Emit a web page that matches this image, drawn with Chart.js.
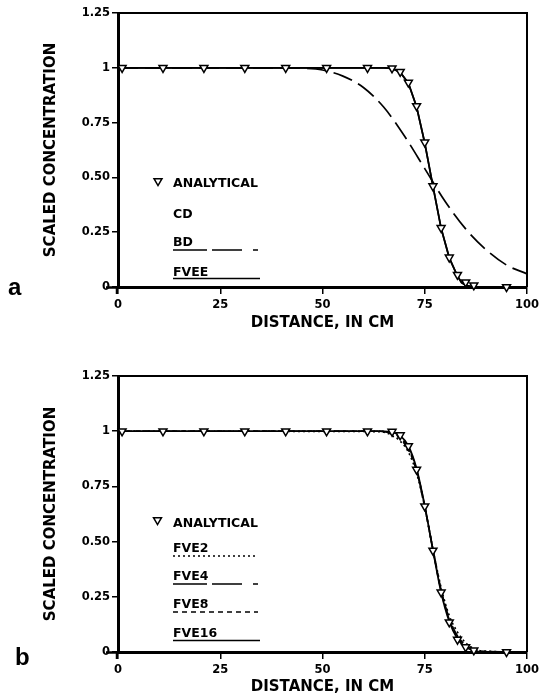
<!DOCTYPE html>
<html>
<head>
<meta charset="utf-8">
<script src="https://cdn.jsdelivr.net/npm/chart.js@4.4.1/dist/chart.umd.min.js"></script>
<style>
  html, body { margin: 0; padding: 0; background: #fff; }
  #wrap { position: relative; width: 540px; height: 698px; overflow: hidden; }
  canvas { position: absolute; left: 0; }
  #c1 { top: 0; }
  #c2 { top: 349px; }
</style>
</head>
<body>
<div id="wrap">
  <canvas id="c1" width="540" height="349"></canvas>
  <canvas id="c2" width="540" height="349"></canvas>
</div>
<script>
// ---------- DATA ----------
const xTicks = [0, 25, 50, 75, 100];
const yTicks = [0, 0.25, 0.5, 0.75, 1, 1.25];
const yTickLabels = ['0', '0.25', '0.50', '0.75', '1', '1.25'];

// Analytical solution (triangles), same in both panels
const analyticalX = [1, 11, 21, 31, 41, 51, 61, 67, 69, 71, 73, 75, 77, 79, 81, 83, 85, 87, 95];
const analyticalY = [1, 1, 1, 1, 1, 1, 1, 0.998, 0.982, 0.933, 0.826, 0.66, 0.46, 0.27, 0.135, 0.056, 0.022, 0.008, 0];

// Panel a
const fveeX = [0, 65, 67, 69, 71, 73, 75, 77, 79, 81, 83, 84, 85, 87, 100];
const fveeY = [1, 1, 0.997, 0.98, 0.93, 0.822, 0.657, 0.46, 0.268, 0.133, 0.05, 0.02, 0.008, 0, 0];
const cdX = [0, 65, 67, 69, 71, 73, 75, 77, 79, 81, 83, 84, 85, 87, 100];
const cdY = [1, 1, 0.997, 0.98, 0.93, 0.822, 0.657, 0.46, 0.268, 0.133, 0.05, 0.02, 0.008, 0, 0];
const bdX = [0, 40, 45, 50, 55, 60, 65, 70, 75, 80, 85, 90, 95, 100];
const bdY = [1, 1, 0.998, 0.99, 0.962, 0.91, 0.82, 0.69, 0.54, 0.39, 0.265, 0.17, 0.1, 0.06];

// Panel b
const fveBX = [0, 64, 66, 67, 69, 71, 73, 75, 77, 79, 81, 83, 85, 87, 89, 100];
const fve16Y = [1, 1, 0.998, 0.995, 0.98, 0.933, 0.83, 0.662, 0.462, 0.27, 0.138, 0.06, 0.022, 0.006, 0, 0];
const fve8Y  = [1, 1, 0.996, 0.99, 0.972, 0.925, 0.825, 0.66, 0.463, 0.276, 0.146, 0.067, 0.028, 0.009, 0.002, 0];
const fve4Y  = [1, 1, 0.994, 0.986, 0.966, 0.918, 0.82, 0.658, 0.464, 0.281, 0.152, 0.073, 0.032, 0.012, 0.003, 0];
const fve2Y  = [1, 0.998, 0.99, 0.98, 0.955, 0.905, 0.81, 0.655, 0.466, 0.292, 0.165, 0.09, 0.042, 0.016, 0.005, 0];

// ---------- HELPERS ----------
const FONT = "'DejaVu Sans', sans-serif";
const pts = (xs, ys) => xs.map((x, i) => ({ x: x, y: ys[i] }));

function analyticalDataset() {
  return {
    label: 'ANALYTICAL', data: pts(analyticalX, analyticalY), showLine: false,
    pointStyle: 'triangle', rotation: 180, pointRadius: 4.6, pointBorderWidth: 1.5,
    pointBackgroundColor: '#fff', pointBorderColor: '#000', clip: false
  };
}
function lineDataset(label, xs, ys, dash, width, smooth) {
  return {
    label: label, data: pts(xs, ys), borderColor: '#000', borderWidth: width || 1.7,
    borderDash: dash || [], pointRadius: 0, fill: false, clip: false,
    tension: smooth ? 0.4 : 0, cubicInterpolationMode: smooth ? 'monotone' : 'default'
  };
}

function drawTri(ctx, x, y, r) {
  ctx.save();
  ctx.beginPath();
  ctx.moveTo(x - r * 0.866, y - r * 0.5);
  ctx.lineTo(x + r * 0.866, y - r * 0.5);
  ctx.lineTo(x, y + r);
  ctx.closePath();
  ctx.fillStyle = '#fff'; ctx.fill();
  ctx.lineWidth = 1.5; ctx.strokeStyle = '#000'; ctx.stroke();
  ctx.restore();
}

function makePlugin(legend, letter) {
  return {
    id: 'deco',
    afterDraw(chart) {
      const ctx = chart.ctx;
      const a = chart.chartArea;
      ctx.save();
      ctx.strokeStyle = '#000';
      // top and right frame
      ctx.lineWidth = 2;
      ctx.beginPath();
      ctx.moveTo(a.left, a.top);
      ctx.lineTo(a.right, a.top);
      ctx.lineTo(a.right, a.bottom);
      ctx.stroke();
      // axis extensions at the origin
      ctx.lineWidth = 2.5;
      ctx.beginPath();
      ctx.moveTo(a.left - 12, a.bottom + 0.5);
      ctx.lineTo(a.left, a.bottom + 0.5);
      ctx.moveTo(a.left - 1, a.bottom);
      ctx.lineTo(a.left - 1, a.bottom + 7);
      ctx.stroke();
      // legend
      ctx.fillStyle = '#000';
      ctx.font = "bold 12.5px " + FONT;
      ctx.textBaseline = 'alphabetic';
      ctx.textAlign = 'left';
      legend.forEach(it => {
        if (it.tri) drawTri(ctx, it.tri[0], it.tri[1], 4.6);
        ctx.fillText(it.text, 173, it.base);
        if (it.line) {
          ctx.save();
          ctx.lineWidth = 1.6;
          ctx.setLineDash(it.line.dash);
          ctx.beginPath();
          ctx.moveTo(173, it.line.y);
          ctx.lineTo(it.line.x2, it.line.y);
          ctx.stroke();
          ctx.restore();
        }
      });
      // panel letter
      ctx.font = "bold 24px 'Liberation Sans', sans-serif";
      ctx.fillText(letter.text, letter.x, letter.y);
      ctx.restore();
    }
  };
}

function makeChart(id, datasets, o) {
  return new Chart(document.getElementById(id), {
    type: 'line',
    data: { datasets: datasets },
    options: {
      responsive: false, animation: false, events: [],
      layout: { padding: { left: 0, right: 13, top: o.top, bottom: 0 } },
      plugins: { legend: { display: false }, tooltip: { enabled: false } },
      scales: {
        x: {
          type: 'linear', min: 0, max: 100,
          afterBuildTicks: s => { s.ticks = xTicks.map(v => ({ value: v })); },
          afterFit: s => { s.height = o.xh; s.paddingRight = 0; s.paddingLeft = 0; },
          grid: { drawOnChartArea: false, drawTicks: true, tickLength: 7, color: '#000', lineWidth: 1.5 },
          border: { display: true, color: '#000', width: 3 },
          ticks: { color: '#000', font: { family: FONT, size: 11.5, weight: 'bold' }, padding: 4, maxRotation: 0, callback: v => String(v) },
          title: { display: true, text: 'DISTANCE, IN CM', color: '#000', font: { family: FONT, size: 15, weight: 'bold' }, padding: { top: 0, bottom: o.titlePad } }
        },
        y: {
          type: 'linear', min: 0, max: 1.25,
          afterBuildTicks: s => { s.ticks = yTicks.map(v => ({ value: v })); },
          afterFit: s => { s.width = 118; },
          grid: { drawOnChartArea: false, drawTicks: true, tickLength: 6, color: '#000', lineWidth: 1.5 },
          border: { display: true, color: '#000', width: 3 },
          ticks: { color: '#000', font: { family: FONT, size: 11.5, weight: 'bold' }, padding: 2, callback: (v) => yTickLabels[yTicks.indexOf(v)] },
          title: { display: true, text: 'SCALED CONCENTRATION', color: '#000', font: { family: FONT, size: 15, weight: 'bold' }, padding: { top: 42, bottom: 0 } }
        }
      }
    },
    plugins: [makePlugin(o.legend, o.letter)]
  });
}

// ---------- PANEL A ----------
makeChart('c1', [
  analyticalDataset(),
  lineDataset('CD', cdX, cdY, [], 1.7, false),
  lineDataset('BD', bdX, bdY, [20, 7], 1.7, true),
  lineDataset('FVEE', fveeX, fveeY, [], 1.7, false)
], {
  top: 13, xh: 62, titlePad: 17,
  legend: [
    { tri: [158, 181], text: 'ANALYTICAL', base: 186.5 },
    { text: 'CD', base: 217.5 },
    { text: 'BD', base: 246, line: { y: 250, x2: 258, dash: [34, 5, 30, 11, 5, 60] } },
    { text: 'FVEE', base: 275.5, line: { y: 278.5, x2: 260, dash: [] } }
  ],
  letter: { text: 'a', x: 8, y: 295 }
});

// ---------- PANEL B ----------
makeChart('c2', [
  analyticalDataset(),
  lineDataset('FVE2', fveBX, fve2Y, [2, 3], 1.6, true),
  lineDataset('FVE4', fveBX, fve4Y, [12, 4, 4, 4], 1.6, true),
  lineDataset('FVE8', fveBX, fve8Y, [5, 4], 1.6, true),
  lineDataset('FVE16', fveBX, fve16Y, [], 1.8, true)
], {
  top: 27, xh: 46, titlePad: 1.5,
  legend: [
    { tri: [157.5, 171], text: 'ANALYTICAL', base: 177.5 },
    { text: 'FVE2', base: 202.5, line: { y: 207, x2: 257, dash: [2, 3] } },
    { text: 'FVE4', base: 230.5, line: { y: 235, x2: 258, dash: [34, 5, 30, 11, 5, 60] } },
    { text: 'FVE8', base: 258.5, line: { y: 263, x2: 258, dash: [5, 4] } },
    { text: 'FVE16', base: 287.5, line: { y: 291.5, x2: 260, dash: [] } }
  ],
  letter: { text: 'b', x: 15, y: 316 }
});
</script>
</body>
</html>
